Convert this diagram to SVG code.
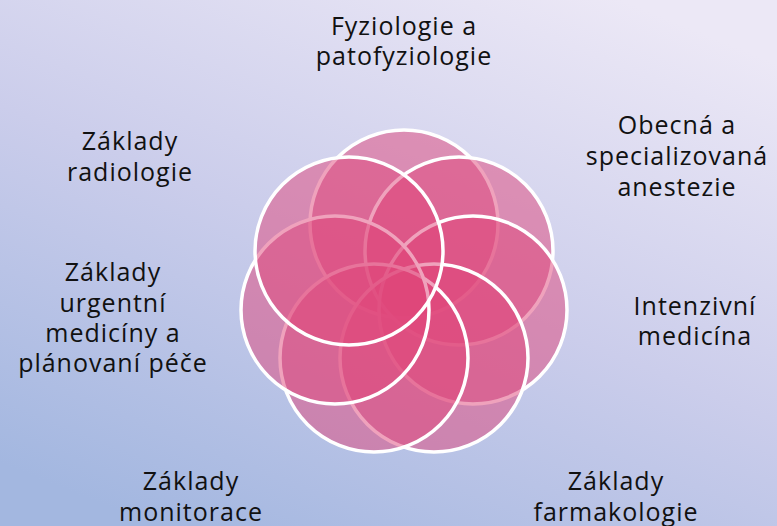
<svg xmlns="http://www.w3.org/2000/svg" width="777" height="526" viewBox="0 0 777 526">
<defs>
<linearGradient id="bg" x1="0.2" y1="1" x2="0.8" y2="0">
<stop offset="0" stop-color="#A3B7E0"/>
<stop offset="0.5" stop-color="#CBCDEB"/>
<stop offset="1" stop-color="#ECE8F6"/>
</linearGradient>
</defs>
<style>
.c{fill:#E0457A;fill-opacity:0.5;stroke:#FFFFFF;stroke-width:3.5}
.t{font-family:"Open Sans","Liberation Sans",sans-serif;font-size:25px;fill:#111111;text-anchor:middle;letter-spacing:1px}
</style>
<rect width="777" height="526" fill="url(#bg)"/>
<g id="circles">
<g id="c1"><circle class="c" cx="404" cy="224" r="94"/></g>
<g id="c2"><circle class="c" cx="459" cy="251" r="94"/></g>
<g id="c3"><circle class="c" cx="473" cy="310" r="94"/></g>
<g id="c4"><circle class="c" cx="434" cy="358" r="94"/></g>
<g id="c5"><circle class="c" cx="374" cy="358" r="94"/></g>
<g id="c6"><circle class="c" cx="335" cy="310" r="94"/></g>
<g id="c7"><circle class="c" cx="349" cy="251" r="94"/></g>
</g>
<g id="connectors"/>
<g id="label-top"><text class="t" x="404" y="35">Fyziologie a</text><text class="t" x="404" y="65">patofyziologie</text></g>
<g id="label-ur"><text class="t" x="677" y="134">Obecná a</text><text class="t" x="677" y="165">specializovaná</text><text class="t" x="677" y="196">anestezie</text></g>
<g id="label-r"><text class="t" x="695" y="315">Intenzivní</text><text class="t" x="695" y="345">medicína</text></g>
<g id="label-lr"><text class="t" x="616" y="490">Základy</text><text class="t" x="616" y="521">farmakologie</text></g>
<g id="label-ll"><text class="t" x="191" y="490">Základy</text><text class="t" x="191" y="521">monitorace</text></g>
<g id="label-l"><text class="t" x="113" y="281">Základy</text><text class="t" x="113" y="312">urgentní</text><text class="t" x="113" y="342">medicíny a</text><text class="t" x="113" y="372">plánovaní péče</text></g>
<g id="label-ul"><text class="t" x="130" y="150">Základy</text><text class="t" x="130" y="181">radiologie</text></g>
</svg>
